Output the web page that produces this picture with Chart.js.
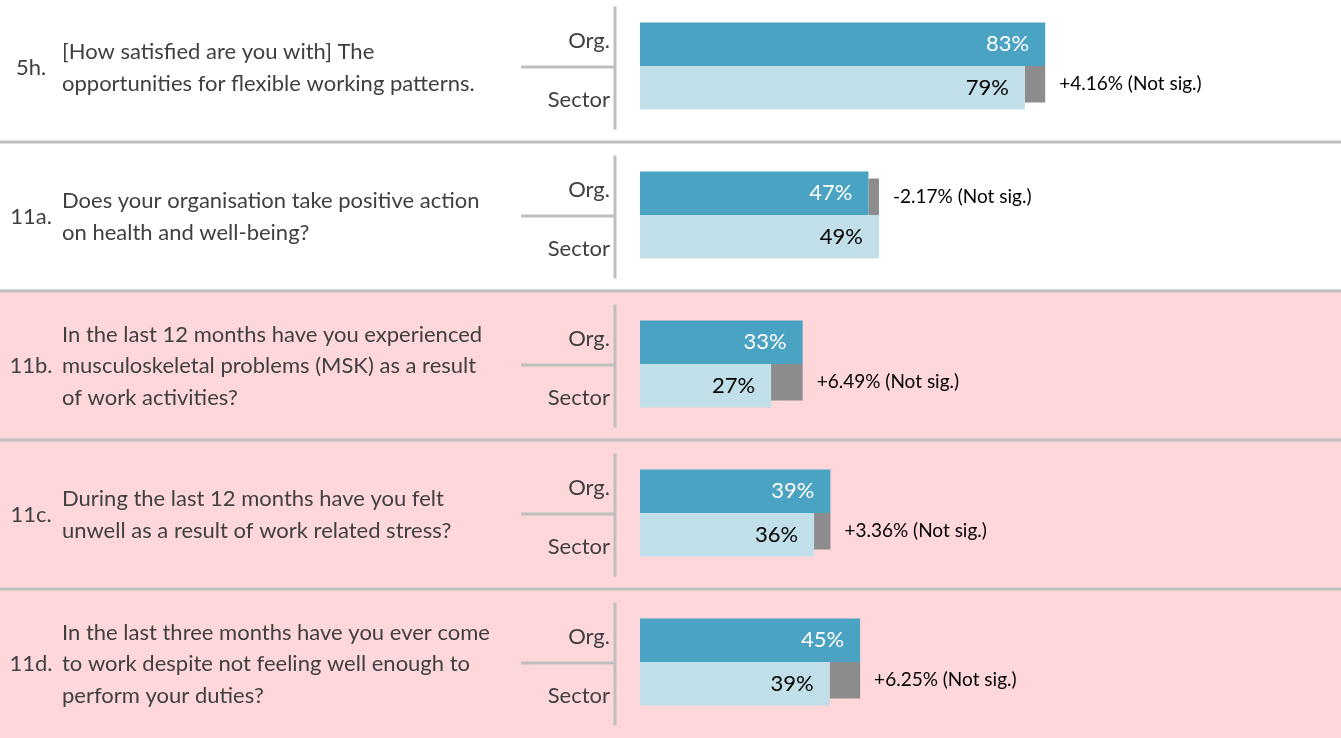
<!DOCTYPE html>
<html>
<head>
<meta charset="utf-8">
<script src="https://cdn.jsdelivr.net/npm/chart.js@4.4.0/dist/chart.umd.min.js"></script>
<style>
  html, body { margin: 0; padding: 0; background: #fff; }
  #wrap { position: relative; width: 1341px; height: 738px; overflow: hidden; }
  #chart { position: absolute; left: 0; top: -9px; }
</style>
</head>
<body>
<div id="wrap"><canvas id="chart" width="1341" height="747"></canvas></div>
<script>
// Data
const questionIds = ['5h.', '11a.', '11b.', '11c.', '11d.'];
const questionLines = [
    ['[How satisfied are you with] The', 'opportunities for flexible working patterns.'],
    ['Does your organisation take positive action', 'on health and well-being?'],
    ['In the last 12 months have you experienced', 'musculoskeletal problems (MSK) as a result', 'of work activities?'],
    ['During the last 12 months have you felt', 'unwell as a result of work related stress?'],
    ['In the last three months have you ever come', 'to work despite not feeling well enough to', 'perform your duties?']
];
const seriesNames = ['Org.', 'Sector'];
const orgValues = [83.2, 46.9, 33.4, 39.1, 45.2];
const sectorValues = [79.04, 49.07, 26.91, 35.74, 38.95];
const diffValues = [4.16, -2.17, 6.49, 3.36, 6.25];
const diffNotes = ['Not sig.', 'Not sig.', 'Not sig.', 'Not sig.', 'Not sig.'];
const highlightedRows = [2, 3, 4];

const FONT = 'Lato, "Open Sans", sans-serif';
const TEXT_COLOR = '#404040';
const LINE_COLOR = '#bfbfbf';

// gap between the two bars, drawn in the row of the smaller one
const orgGap = orgValues.map((v, i) => sectorValues[i] > v ? sectorValues[i] - v : null);
const sectorGap = orgValues.map((v, i) => v > sectorValues[i] ? v - sectorValues[i] : null);

// row backgrounds, separators and left-hand text
const rowDecor = {
    id: 'rowDecor',
    beforeDatasetsDraw(chart) {
        const { ctx, scales: { y } } = chart;
        const band = y.height / questionIds.length;
        ctx.save();
        questionIds.forEach((id, i) => {
            const mid = y.getPixelForValue(i);
            const top = mid - band / 2;
            const bottom = mid + band / 2;
            if (highlightedRows.includes(i)) {
                ctx.fillStyle = '#fdd7d9';
                ctx.fillRect(0, top, chart.width, chart.height - top);
            }
        });
        questionIds.forEach((id, i) => {
            const mid = y.getPixelForValue(i);
            const top = mid - band / 2;
            const bottom = mid + band / 2;

            ctx.strokeStyle = LINE_COLOR;
            ctx.lineWidth = 3;
            if (i < questionIds.length - 1) {
                ctx.beginPath();
                ctx.moveTo(0, bottom + 1.5);
                ctx.lineTo(chart.width, bottom + 1.5);
                ctx.stroke();
            }
            ctx.beginPath();
            ctx.moveTo(615, top + 15);
            ctx.lineTo(615, bottom - 11);
            ctx.moveTo(521, mid + 1);
            ctx.lineTo(614, mid + 1);
            ctx.stroke();

            ctx.fillStyle = TEXT_COLOR;
            ctx.font = '22px ' + FONT;
            ctx.textBaseline = 'middle';
            ctx.textAlign = 'right';
            ctx.fillText(seriesNames[0], 610, mid - 25);
            ctx.fillText(seriesNames[1], 610, mid + 34);

            ctx.textAlign = 'center';
            ctx.fillText(id, 31, mid + 2);

            ctx.textAlign = 'left';
            const lines = questionLines[i];
            const lh = 31.5;
            lines.forEach((line, k) => {
                ctx.fillText(line, 62, mid + 2 + (k - (lines.length - 1) / 2) * lh);
            });
        });
        ctx.restore();
    }
};

// gap bars are a little thinner and sit against the other bar
const gapInset = {
    id: 'gapInset',
    afterDatasetsUpdate(chart) {
        [[1, 1], [3, -1]].forEach(([di, dir]) => {
            chart.getDatasetMeta(di).data.forEach(bar => {
                const cut = bar.height * 0.16;
                bar.height -= cut;
                bar.y += dir * cut / 2;
            });
        });
    }
};

// value and difference labels
const barLabels = {
    id: 'barLabels',
    afterDatasetsDraw(chart) {
        const { ctx } = chart;
        const orgMeta = chart.getDatasetMeta(0);
        const sectorMeta = chart.getDatasetMeta(2);
        ctx.save();
        ctx.textBaseline = 'middle';
        questionIds.forEach((id, i) => {
            ctx.font = '22px ' + FONT;
            ctx.textAlign = 'right';
            const ob = orgMeta.data[i];
            ctx.fillStyle = '#ffffff';
            ctx.fillText(Math.round(orgValues[i]) + '%', ob.x - 16, ob.y);
            const sb = sectorMeta.data[i];
            ctx.fillStyle = '#000000';
            ctx.fillText(Math.round(sectorValues[i]) + '%', sb.x - 16, sb.y);

            const gapBar = chart.getDatasetMeta(diffValues[i] >= 0 ? 3 : 1).data[i];
            const d = diffValues[i];
            const txt = (d > 0 ? '+' : '') + d.toFixed(2) + '% (' + diffNotes[i] + ')';
            ctx.font = '19px ' + FONT;
            ctx.textAlign = 'left';
            ctx.fillText(txt, gapBar.x + 14, gapBar.y);
        });
        ctx.restore();
    }
};

function drawChart() {
    new Chart(document.getElementById('chart'), {
        type: 'bar',
        data: {
            labels: questionIds,
            datasets: [
                { label: 'Org.', data: orgValues, stack: 'org', backgroundColor: '#4ba3c3' },
                { label: 'Org. gap', data: orgGap, stack: 'org', backgroundColor: '#8c8c8c' },
                { label: 'Sector', data: sectorValues, stack: 'sector', backgroundColor: '#c1dfe8' },
                { label: 'Sector gap', data: sectorGap, stack: 'sector', backgroundColor: '#8c8c8c' }
            ]
        },
        options: {
            indexAxis: 'y',
            responsive: false,
            animation: false,
            devicePixelRatio: 1,
            datasets: {
                bar: {
                    barPercentage: 1,
                    categoryPercentage: 87 / 149,
                    borderWidth: 0,
                    inflateAmount: 0
                }
            },
            layout: {
                padding: { left: 640, right: 214, top: 0.5, bottom: 1.5 }
            },
            plugins: {
                legend: { display: false },
                tooltip: { enabled: false }
            },
            scales: {
                x: { display: false, stacked: true, min: 0, max: 100 },
                y: { display: false, stacked: true }
            }
        },
        plugins: [rowDecor, gapInset, barLabels]
    });
}

document.fonts.load('22px Lato').then(drawChart, drawChart);
</script>
</body>
</html>
